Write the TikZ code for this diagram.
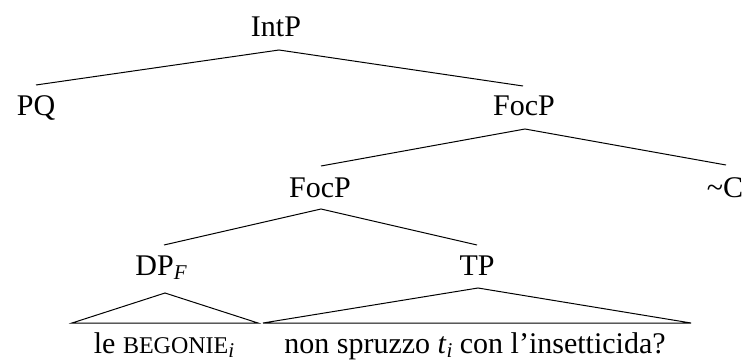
\documentclass[tikz,border=0pt]{standalone}
\usepackage{fontspec}
\setmainfont{Liberation Serif}
% italic index set slightly below the baseline
\newcommand\lowidx[1]{\raisebox{-4pt}{\fontsize{21}{21}\selectfont\itshape #1}}
\begin{document}
\begin{tikzpicture}[x=1pt,y=-1pt,
  lbl/.style={anchor=base,inner sep=0pt,font=\fontsize{30}{36}\selectfont},
  edge/.style={line width=1pt,line join=miter}]
\useasboundingbox (0,0) rectangle (744,361);

% category labels
\node[lbl] (intp)  at (276,37)  {IntP};
\node[lbl] (pq)    at (36,115)  {PQ};
\node[lbl] (focpa) at (524,115) {FocP};
\node[lbl] (focpb) at (320,197) {FocP};
\node[lbl] (tildec) at (725,197) {\textasciitilde C};
\node[lbl] (dp)    at (161,275) {DP\lowidx{F}};
\node[lbl] (tp)    at (477,275) {TP};

% terminal strings
\node[lbl] (dpyield) at (164,353)
  {le {\fontsize{24}{24}\selectfont BEGONIE}\lowidx{i}};
\node[lbl] (tpyield) at (475,353)
  {non spruzzo \textit{t}\lowidx{i} con l’insetticida?};

% branch end points
\coordinate (intp-foot)  at (279,50);
\coordinate (pq-head)    at (36,85);
\coordinate (focpa-head) at (523,86);
\coordinate (focpa-foot) at (525,129);
\coordinate (focpb-head) at (321,166);
\coordinate (tildec-head) at (726,165);
\coordinate (focpb-foot) at (321,209);
\coordinate (dp-head)    at (164,245);
\coordinate (tp-head)    at (477,245);

% triangle corners
\coordinate (dp-top)   at (165,293);
\coordinate (dp-left)  at (72,323);
\coordinate (dp-right) at (258,323);
\coordinate (tp-top)   at (478,288);
\coordinate (tp-left)  at (263,323);
\coordinate (tp-right) at (691,323);

% branches
\draw[edge] (pq-head) -- (intp-foot) -- (focpa-head);
\draw[edge] (focpb-head) -- (focpa-foot) -- (tildec-head);
\draw[edge] (dp-head) -- (focpb-foot) -- (tp-head);

% roofs over the unanalysed constituents
\draw[edge] (dp-top) -- (dp-left) -- (dp-right) -- cycle;
\draw[edge] (tp-top) -- (tp-left) -- (tp-right) -- cycle;
\end{tikzpicture}
\end{document}
